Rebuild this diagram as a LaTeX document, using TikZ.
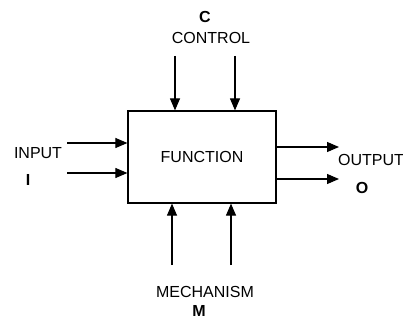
\documentclass[tikz,border=0pt]{standalone}
\usepackage{fontspec}
\setmainfont{Liberation Sans}
\usetikzlibrary{arrows.meta, positioning}

\begin{document}
\begin{tikzpicture}[
  x=1pt, y=-1pt,
  box/.style={draw=black, line width=1.2pt, minimum width=148pt, minimum height=92pt,
    inner sep=0, font=\fontsize{16}{18}\selectfont},
  arr/.style={line width=1.1pt, -{Triangle[length=12pt,width=10pt]}},
  lbl/.style={inner sep=0, font=\fontsize{16}{18}\selectfont},
  key/.style={inner sep=0, font=\fontsize{16}{18}\selectfont\bfseries}
]
\useasboundingbox (0,0) rectangle (403,320);

% Activity box
\node[box] (func) at (202,157) {FUNCTION};

% Free ends of the arrows
\coordinate (c1) at (175,56);
\coordinate (c2) at (235,56);
\coordinate (m1) at (172,265);
\coordinate (m2) at (231,265);
\coordinate (i1) at (67,143);
\coordinate (i2) at (67,173);
\coordinate (o1) at (339,147);
\coordinate (o2) at (339,179);

% Arrows
\foreach \c in {c1,c2}
  \draw[arr] (\c) -- (\c |- func.north);
\foreach \m in {m1,m2}
  \draw[arr] (\m) -- (\m |- func.south);
\foreach \i in {i1,i2}
  \draw[arr] (\i) -- (\i -| func.west);
\foreach \o in {o1,o2}
  \draw[arr] (\o -| func.east) -- (\o);

% Labels
\node[lbl] (ctl) at (211,38) {CONTROL};
\node[key] (ckey) at (205,17) {C};
\node[lbl] (inp) at (38,153) {INPUT};
\node[key] (ikey) at (28,180) {I};
\node[lbl, anchor=west] (out) at (338,160) {OUTPUT};
\node[key] (okey) at (362,188) {O};
\node[lbl] (mech) at (205,292) {MECHANISM};
\node[key] (mkey) at (199,311) {M};
\end{tikzpicture}
\end{document}
